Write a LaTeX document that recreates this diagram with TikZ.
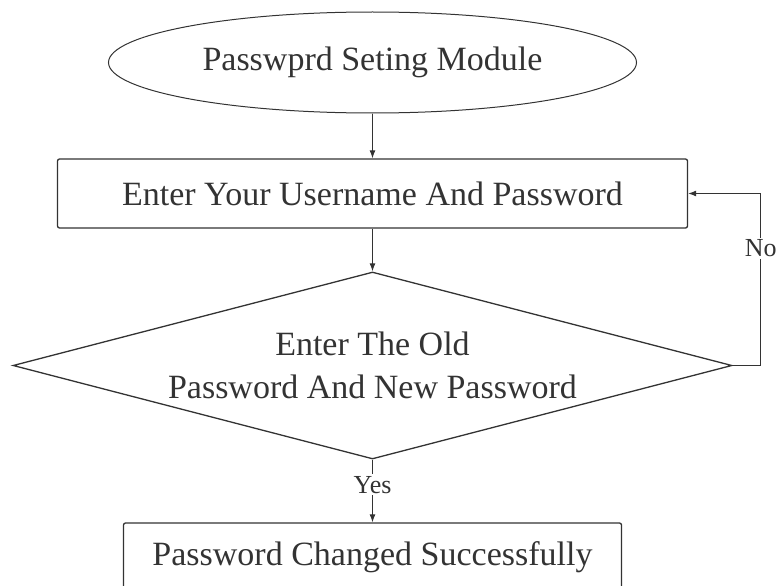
\documentclass[tikz,border=0pt]{standalone}
\usepackage{fontspec}
\setmainfont{Liberation Serif}
\usetikzlibrary{shapes.geometric,arrows.meta,positioning}
\definecolor{ink}{HTML}{333333}

\tikzset{
  startbox/.style={ellipse,draw=ink,line width=1pt,inner sep=0pt,
    minimum width=528pt,minimum height=101pt},
  procbox/.style={rectangle,draw=ink,line width=1.3pt,rounded corners=2pt,
    inner sep=0pt,minimum height=69pt},
  decbox/.style={diamond,draw=ink,line width=1.3pt,inner sep=0pt,aspect=3.85,
    minimum width=719pt,minimum height=187pt,align=center},
  lbl/.style={fill=white,inner sep=2pt,font=\fontsize{26}{30}\selectfont}
}

\begin{document}
\begin{tikzpicture}[x=1pt,y=-1pt,>={Latex[length=8pt,width=6pt]},
  every node/.style={text=ink,font=\fontsize{34}{43}\selectfont}]
  \useasboundingbox (0,0) rectangle (777,586);
  \node[startbox] (start) at (372.5,62.5) {Passwprd Seting Module};
  \node[procbox,minimum width=630pt] (enter) at (372.5,193.5) {Enter Your Username And Password};
  \node[decbox] (check) at (372.5,365.5) {Enter The Old\\Password And New Password};
  \node[procbox,minimum width=498pt] (done) at (372.5,557.5) {Password Changed Successfully};
  % connectors
  \draw[->,ink,line width=1.2pt] (start) -- (enter);
  \draw[->,ink,line width=1.2pt] (enter) -- (check);
  \draw[->,ink,line width=1.2pt] (check) -- node[lbl,pos=0.4] (yes) {Yes} (done);
  \draw[->,ink,line width=1.2pt] (check.east) -- ++(28,0) |- node[lbl,pos=0.34] (no) {No} (enter.east);
\end{tikzpicture}
\end{document}
